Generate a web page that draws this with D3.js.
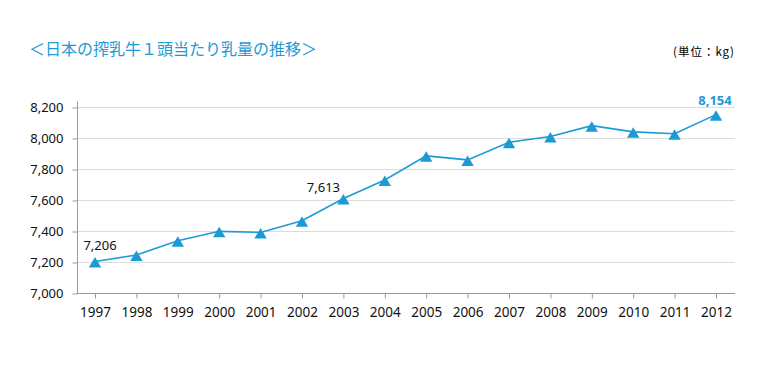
<!DOCTYPE html>
<html>
<head>
<meta charset="utf-8">
<script src="https://cdn.jsdelivr.net/npm/d3@7"></script>
<style>
  body { margin: 0; background: #fff; }
  svg { display: block; font-family: "Noto Sans", "Noto Sans CJK JP", sans-serif; }
</style>
</head>
<body>
<svg id="chart" width="767" height="371"></svg>
<script>
const years = [1997, 1998, 1999, 2000, 2001, 2002, 2003, 2004, 2005, 2006, 2007, 2008, 2009, 2010, 2011, 2012];
const milk = [7206, 7248, 7340, 7401, 7394, 7470, 7613, 7732, 7888, 7862, 7976, 8013, 8083, 8043, 8031, 8154];
const yTicks = [7000, 7200, 7400, 7600, 7800, 8000, 8200];
const labeled = [1997, 2003, 2012]; // years with value labels

const blue = "#1c9ad6";
const svg = d3.select("#chart");

const x = d3.scalePoint().domain(years).range([95, 716]);
const y = d3.scaleLinear().domain([7000, 8200]).range([293.5, 107.5]);

// label nudges (px) for the annotated points
const labelPos = { 1997: [5, -11.5], 2003: [-20, -6.5], 2012: [-1, -9.5] };

// title + unit
svg.append("text")
  .attr("x", 29).attr("y", 55)
  .attr("fill", blue)
  .style("font-family", "'Noto Sans CJK JP'")
  .style("font-size", "16px")
  .text("＜日本の搾乳牛１頭当たり乳量の推移＞");

svg.append("text")
  .attr("x", 735).attr("y", 56)
  .attr("text-anchor", "end")
  .style("font-family", "'Noto Sans CJK JP'")
  .style("font-size", "11.5px")
  .style("letter-spacing", "1px")
  .text("(単位：kg)");

// grid
svg.append("g")
  .selectAll("line")
  .data(yTicks.slice(1))
  .join("line")
  .attr("x1", 77).attr("x2", 735)
  .attr("y1", d => y(d)).attr("y2", d => y(d))
  .attr("stroke", "#dcdcdc");

// y axis
const yAxis = svg.append("g")
  .attr("transform", "translate(77.5,0)")
  .call(d3.axisLeft(y).tickValues(yTicks).tickSize(5).tickPadding(9).tickFormat(d3.format(",")));
yAxis.select(".domain").attr("stroke", "#999").attr("d", `M0,${y(8200) - 6}V${y(7000)}`);
yAxis.selectAll(".tick text").style("font-size", "13px");

// x axis
const xAxis = svg.append("g")
  .attr("transform", `translate(0,${y(7000)})`)
  .call(d3.axisBottom(x).tickSize(5).tickPadding(9).tickSizeOuter(0));
xAxis.select(".domain").attr("stroke", "#999").attr("d", "M77,0H735");
xAxis.selectAll(".tick text").style("font-size", "13.5px");

svg.selectAll(".tick line").attr("stroke", "#999");
svg.selectAll(".tick text")
  .attr("fill", "#111")
  .style("font-family", "'Noto Sans'");

// line
const pts = years.map((yr, i) => ({ yr, v: milk[i] }));
svg.append("path")
  .datum(pts)
  .attr("fill", "none")
  .attr("stroke", blue)
  .attr("stroke-width", 1.6)
  .attr("d", d3.line().x(d => x(d.yr)).y(d => y(d.v)));

// triangle markers
const tri = {
  draw(ctx) {
    ctx.moveTo(0, -4.5);
    ctx.lineTo(6.2, 6);
    ctx.lineTo(-6.2, 6);
    ctx.closePath();
  }
};
svg.append("g")
  .selectAll("path")
  .data(pts)
  .join("path")
  .attr("transform", d => `translate(${x(d.yr)},${y(d.v)})`)
  .attr("d", d3.symbol(tri))
  .attr("fill", blue);

// value labels
svg.append("g")
  .selectAll("text")
  .data(pts.filter(d => labeled.includes(d.yr)))
  .join("text")
  .attr("x", d => x(d.yr) + labelPos[d.yr][0])
  .attr("y", d => y(d.v) + labelPos[d.yr][1])
  .attr("text-anchor", "middle")
  .attr("fill", d => d.yr === 2012 ? blue : "#111")
  .style("font-weight", d => d.yr === 2012 ? "bold" : "normal")
  .style("font-size", "13px")
  .text(d => d3.format(",")(d.v));
</script>
</body>
</html>
